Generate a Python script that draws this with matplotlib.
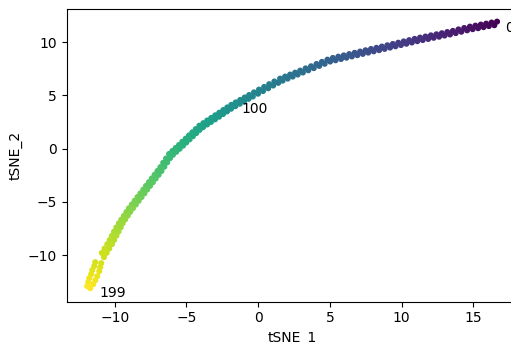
import matplotlib
matplotlib.use("Agg")
import matplotlib.pyplot as plt

# tSNE embedding, 200 samples, ordered by index (colour = index)
tsne_1 = [
    16.66, 16.47, 16.28, 16.09, 15.90, 15.72, 15.53, 15.34, 15.15, 14.96,
    14.77, 14.57, 14.37, 14.17, 13.97, 13.78, 13.58, 13.38, 13.19, 13.00,
    12.81, 12.62, 12.43, 12.24, 12.05, 11.86, 11.67, 11.48, 11.29, 11.10,
    10.91, 10.72, 10.53, 10.34, 10.15, 9.96, 9.77, 9.58, 9.39, 9.20,
    9.01, 8.82, 8.63, 8.44, 8.25, 8.06, 7.87, 7.68, 7.49, 7.30,
    7.11, 6.92, 6.73, 6.54, 6.35, 6.16, 5.97, 5.78, 5.59, 5.40,
    5.21, 5.02, 4.83, 4.64, 4.45, 4.26, 4.07, 3.88, 3.69, 3.50,
    3.31, 3.12, 2.93, 2.76, 2.58, 2.41, 2.23, 2.06, 1.88, 1.71,
    1.53, 1.40, 1.13, 1.05, 0.77, 0.70, 0.42, 0.34, 0.06, -0.01,
    -0.29, -0.37, -0.63, -0.67, -0.94, -0.98, -1.25, -1.28, -1.56, -1.59,
    -1.87, -1.89, -2.15, -2.17, -2.43, -2.45, -2.71, -2.73, -2.99, -3.01,
    -3.27, -3.29, -3.55, -3.56, -3.82, -3.84, -4.10, -4.08, -4.35, -4.31,
    -4.59, -4.55, -4.82, -4.78, -5.05, -5.01, -5.29, -5.24, -5.52, -5.48,
    -5.75, -5.71, -5.98, -5.94, -6.21, -6.14, -6.42, -6.34, -6.62, -6.54,
    -6.82, -6.74, -7.02, -6.94, -7.22, -7.14, -7.42, -7.34, -7.62, -7.54,
    -7.82, -7.74, -8.01, -7.93, -8.21, -8.13, -8.41, -8.33, -8.61, -8.53,
    -8.81, -8.73, -9.01, -8.92, -9.19, -9.09, -9.36, -9.27, -9.54, -9.44,
    -9.71, -9.58, -9.89, -9.73, -10.05, -9.88, -10.20, -10.04, -10.35, -10.19,
    -10.52, -10.38, -10.71, -10.56, -10.90, -10.75, -11.36, -10.94, -11.43, -11.01,
    -11.57, -11.08, -11.64, -11.22, -11.78, -11.36, -11.85, -11.50, -11.92, -11.71,
]
tsne_2 = [
    11.92, 11.58, 11.83, 11.50, 11.73, 11.40, 11.64, 11.30, 11.54, 11.21,
    11.45, 11.10, 11.32, 10.97, 11.19, 10.84, 11.05, 10.71, 10.94, 10.61,
    10.83, 10.50, 10.73, 10.40, 10.63, 10.29, 10.52, 10.19, 10.42, 10.08,
    10.30, 9.96, 10.18, 9.84, 10.06, 9.72, 9.94, 9.60, 9.82, 9.48,
    9.70, 9.36, 9.58, 9.24, 9.46, 9.13, 9.35, 9.01, 9.23, 8.89,
    9.11, 8.77, 8.99, 8.65, 8.87, 8.53, 8.75, 8.41, 8.63, 8.29,
    8.51, 8.17, 8.35, 7.96, 8.14, 7.76, 7.94, 7.55, 7.73, 7.35,
    7.53, 7.14, 7.32, 6.95, 7.13, 6.76, 6.95, 6.57, 6.76, 6.38,
    6.57, 6.17, 6.30, 5.92, 6.05, 5.66, 5.79, 5.40, 5.54, 5.15,
    5.28, 4.89, 5.03, 4.67, 4.80, 4.44, 4.57, 4.21, 4.34, 3.98,
    4.11, 3.74, 3.87, 3.49, 3.62, 3.24, 3.37, 2.99, 3.13, 2.74,
    2.88, 2.50, 2.64, 2.26, 2.39, 2.01, 2.15, 1.76, 1.83, 1.46,
    1.53, 1.16, 1.24, 0.87, 0.94, 0.57, 0.64, 0.27, 0.34, -0.02,
    0.06, -0.30, -0.22, -0.58, -0.50, -0.89, -0.93, -1.29, -1.33, -1.70,
    -1.74, -2.10, -2.10, -2.46, -2.45, -2.81, -2.80, -3.16, -3.15, -3.50,
    -3.50, -3.85, -3.85, -4.20, -4.20, -4.55, -4.54, -4.90, -4.89, -5.25,
    -5.24, -5.60, -5.59, -5.94, -5.95, -6.29, -6.31, -6.64, -6.66, -6.99,
    -7.01, -7.38, -7.40, -7.77, -7.79, -8.17, -8.19, -8.57, -8.58, -8.96,
    -8.97, -9.38, -9.38, -9.78, -9.79, -10.19, -10.66, -10.75, -11.03, -11.13,
    -11.41, -11.50, -11.78, -11.97, -12.16, -12.35, -12.54, -12.72, -12.91, -13.10,
]
sample_idx = list(range(len(tsne_1)))

# annotated samples and where their text sits
label_idx = [0, 100, 199]
label_x = [17.25, -1.18, -11.10]
label_y = [10.97, 3.33, -13.90]

fig = plt.figure(figsize=(5.11, 3.43), dpi=100)
# right edge of the axes falls just outside the saved picture
ax = fig.add_axes([66.7 / 511, 41.5 / 343, 451 / 511, 293 / 343])

ax.scatter(tsne_1, tsne_2, c=sample_idx, cmap='viridis', s=11)
for i, lx, ly in zip(label_idx, label_x, label_y):
    ax.text(lx, ly, str(i), fontsize=10)

ax.set_xlim(-13.35, 18.1)
ax.set_ylim(-14.35, 13.15)
ax.set_xticks([-10, -5, 0, 5, 10, 15])
ax.set_yticks([-10, -5, 0, 5, 10])
ax.set_xlabel('tSNE_1')
ax.set_ylabel('tSNE_2')

fig.savefig('out.png', dpi=100)
